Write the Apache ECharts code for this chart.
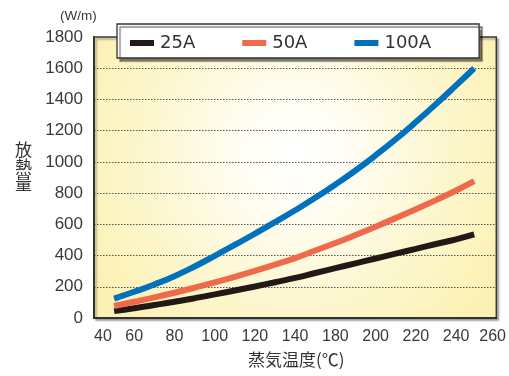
<!DOCTYPE html>
<html>
<head>
<meta charset="utf-8">
<script src="https://cdn.jsdelivr.net/npm/echarts@6/dist/echarts.min.js"></script>
<style>
html,body{margin:0;padding:0;background:#fff;}
#chart{width:509px;height:376px;}
</style>
</head>
<body>
<div id="chart"></div>
<script>
// ---- data (x in axis units, values in W/m) ----
const seriesNames = ['25A', '50A', '100A'];
const temps = [50, 60, 70, 80, 90, 100, 110, 120, 130, 140, 150, 160, 170, 180, 190, 200, 210, 220, 229];
const values25A = [45, 63, 83, 104, 127, 151, 176, 202, 229, 257, 288, 319, 350, 381, 412, 443, 474, 504, 535];
const values50A = [77, 104, 132, 162, 194, 228, 264, 302, 342, 384, 432, 480, 532, 585, 640, 697, 755, 817, 877];
const values100A = [124, 168, 215, 268, 330, 398, 468, 540, 614, 690, 770, 855, 945, 1042, 1145, 1255, 1370, 1490, 1600];
const xTickLabels = ['40', '60', '80', '100', '120', '140', '180', '200', '220', '240', '260'];
const yTickValues = [0, 200, 400, 600, 800, 1000, 1200, 1400, 1600, 1800];
const colors = ['#231815', '#ee6a4b', '#0071bc'];

const pair = (xs, ys) => xs.map((x, i) => [x, ys[i]]);
const allValues = [values25A, values50A, values100A];

const chart = echarts.init(document.getElementById('chart'), null, {renderer: 'canvas'});
const axisFont = 'Liberation Sans, Arial, sans-serif';
const jpFont = '"Noto Sans CJK JP", sans-serif';

const option = {
  animation: false,
  grid: {
    left: 94, top: 37, width: 405, height: 281,
    show: true,
    borderColor: '#3a3a3a', borderWidth: 1.5,
    shadowColor: 'rgba(0,0,0,0.35)', shadowBlur: 2, shadowOffsetX: 2, shadowOffsetY: 2,
    backgroundColor: {
      type: 'radial', x: 0.5, y: 0.42, r: 0.85,
      colorStops: [
        {offset: 0, color: '#ffffff'},
        {offset: 0.25, color: '#fffdf2'},
        {offset: 0.6, color: '#fdf7d0'},
        {offset: 1, color: '#fcf1b2'}
      ]
    }
  },
  legend: {
    left: 117, top: 24,
    data: seriesNames,
    icon: 'rect', itemWidth: 24, itemHeight: 6, itemGap: 47,
    padding: [10, 48, 6, 13],
    backgroundColor: '#ffffff',
    borderColor: '#333', borderWidth: 1.3,
    shadowColor: 'rgba(0,0,0,0.5)', shadowBlur: 1, shadowOffsetX: 3, shadowOffsetY: 3,
    textStyle: {fontFamily: 'DejaVu Sans, sans-serif', fontSize: 18, color: '#333', padding: [0, 0, 0, 1]}
  },
  xAxis: {
    type: 'value', min: 40, max: 240, interval: 20,
    axisLine: {show: true, onZero: false, lineStyle: {color: '#333', width: 2}},
    axisTick: {show: false},
    splitLine: {show: false},
    axisLabel: {
      fontFamily: axisFont, fontSize: 16, color: '#3a3a3a', margin: 11,
      alignMinLabel: 'left',
      formatter: function (v) {
        const i = Math.round((v - 40) / 20);
        if (i === xTickLabels.length - 1) return '{last|' + xTickLabels[i] + '}';
        return xTickLabels[i];
      },
      rich: {
        last: {fontFamily: axisFont, fontSize: 16, color: '#3a3a3a', width: 34, align: 'left'}
      }
    }
  },
  yAxis: {
    type: 'value', min: yTickValues[0], max: yTickValues[yTickValues.length - 1], interval: 200,
    axisLine: {show: true, lineStyle: {color: '#333', width: 2}},
    axisTick: {show: false},
    axisLabel: {
      fontFamily: axisFont, fontSize: 17, color: '#3a3a3a', margin: 11,
      formatter: function (v) { return String(v); }
    },
    splitLine: {show: true, lineStyle: {color: '#555', width: 1, type: [1.5, 1.5]}}
  },
  graphic: [
    {type: 'text', left: 60, top: 9, style: {text: '(W/m)', font: '13.5px ' + axisFont, fill: '#3a3a3a'}},
    {type: 'text', left: 15, top: 141, style: {text: '放\n熱\n量', font: '17px ' + jpFont, fill: '#333', lineHeight: 17}},
    {type: 'text', left: 248, top: 351, style: {text: '蒸気温度(℃)', font: '17px ' + jpFont, fill: '#333'}}
  ],
  series: seriesNames.map((name, k) => ({
    name: name,
    type: 'line',
    smooth: true,
    showSymbol: false,
    symbol: 'none',
    color: colors[k],
    lineStyle: {color: colors[k], width: 6, cap: 'butt'},
    data: pair(temps, allValues[k]),
    z: 3 + k
  }))
};
chart.setOption(option);
</script>
</body>
</html>
